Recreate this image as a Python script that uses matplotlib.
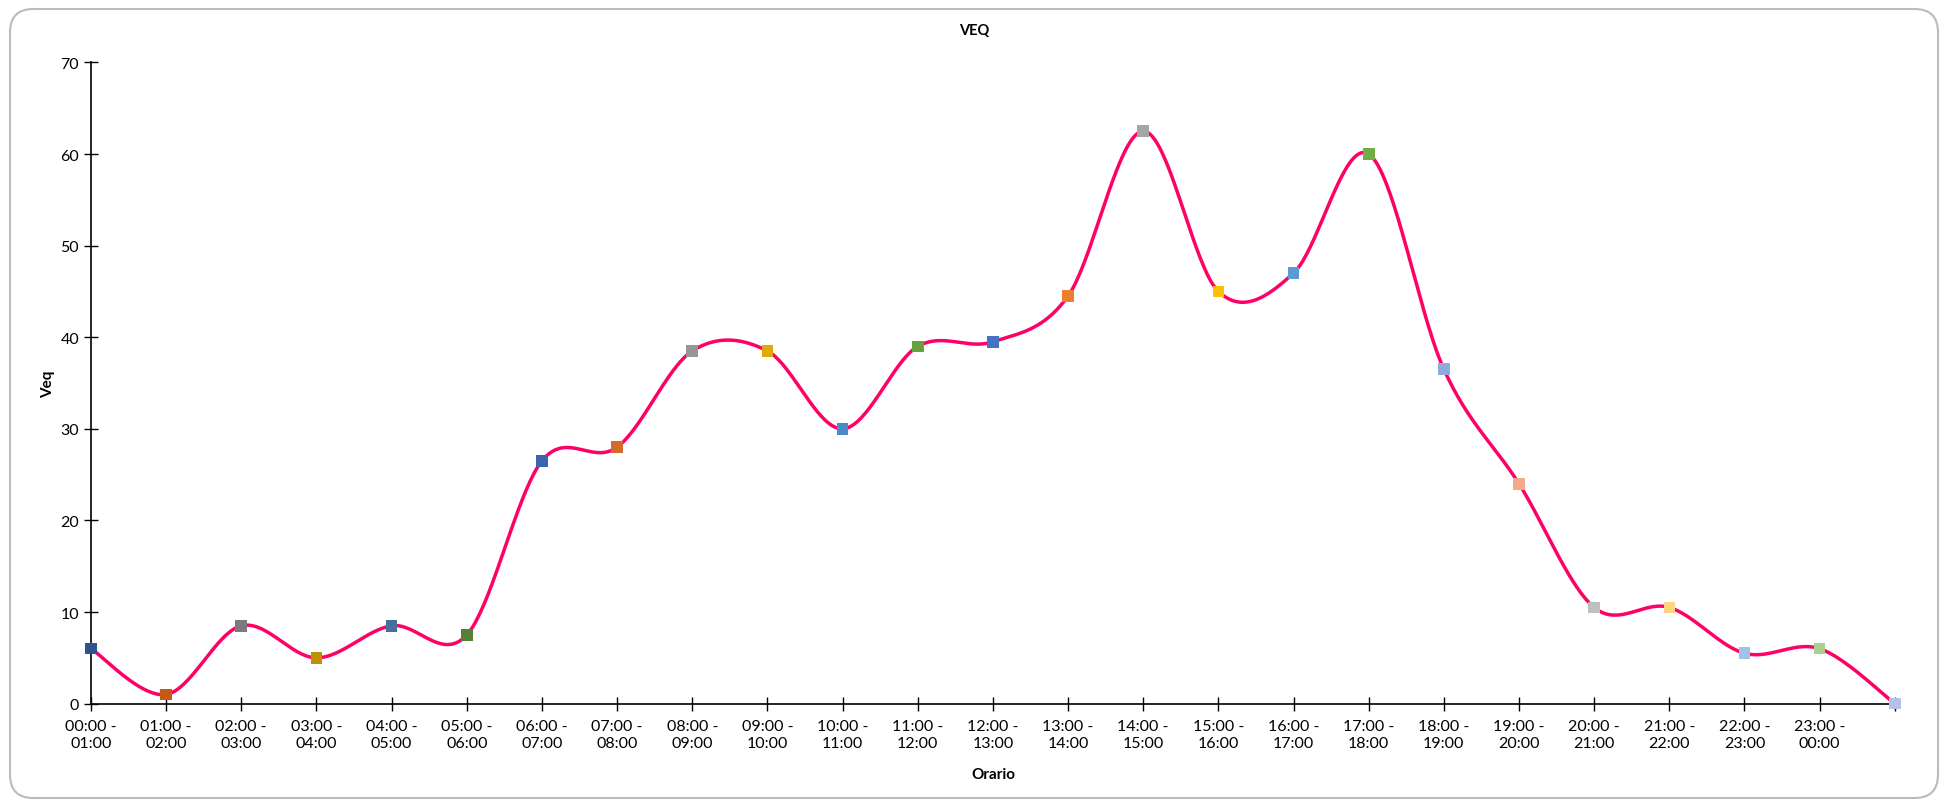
import numpy as np
import matplotlib.pyplot as plt
from matplotlib.patches import FancyBboxPatch

plt.rcParams['font.family'] = ['Lato', 'DejaVu Sans']

# dati: fasce orarie e valori Veq
fasce = ["00:00 -\n01:00", "01:00 -\n02:00", "02:00 -\n03:00", "03:00 -\n04:00",
         "04:00 -\n05:00", "05:00 -\n06:00", "06:00 -\n07:00", "07:00 -\n08:00",
         "08:00 -\n09:00", "09:00 -\n10:00", "10:00 -\n11:00", "11:00 -\n12:00",
         "12:00 -\n13:00", "13:00 -\n14:00", "14:00 -\n15:00", "15:00 -\n16:00",
         "16:00 -\n17:00", "17:00 -\n18:00", "18:00 -\n19:00", "19:00 -\n20:00",
         "20:00 -\n21:00", "21:00 -\n22:00", "22:00 -\n23:00", "23:00 -\n00:00", ""]
veq = [6, 1, 8.5, 5, 8.5, 7.5, 26.5, 28, 38.5, 38.5, 30, 39, 39.5, 44.5,
       62.5, 45, 47, 60, 36.5, 24, 10.5, 10.5, 5.5, 6, 0]
colori = ["#2F528F", "#C55A11", "#7B7B7B", "#BF9000", "#41719C", "#538135",
          "#3A63B0", "#D36A2A", "#969696", "#E0A800", "#4A8BC9", "#64A03D",
          "#4472C4", "#ED7D31", "#A5A5A5", "#FFC000", "#5B9BD5", "#70AD47",
          "#8FAADC", "#F4A98A", "#BFBFBF", "#FFD480", "#9DC3E6", "#A9D18E",
          "#B4C0E7"]


def spline_excel(x, y, n=40):
    # curva liscia tipo Excel (Bezier con tangenti Catmull-Rom)
    x = np.asarray(x, float)
    y = np.asarray(y, float)
    xs, ys = [], []
    for i in range(len(x) - 1):
        x0, y0 = x[max(i - 1, 0)], y[max(i - 1, 0)]
        x3, y3 = x[min(i + 2, len(x) - 1)], y[min(i + 2, len(x) - 1)]
        p1 = (x[i] + (x[i + 1] - x0) / 6, y[i] + (y[i + 1] - y0) / 6)
        p2 = (x[i + 1] - (x3 - x[i]) / 6, y[i + 1] - (y3 - y[i]) / 6)
        t = np.linspace(0, 1, n)
        bx = ((1 - t) ** 3 * x[i] + 3 * (1 - t) ** 2 * t * p1[0]
              + 3 * (1 - t) * t ** 2 * p2[0] + t ** 3 * x[i + 1])
        by = ((1 - t) ** 3 * y[i] + 3 * (1 - t) ** 2 * t * p1[1]
              + 3 * (1 - t) * t ** 2 * p2[1] + t ** 3 * y[i + 1])
        xs.extend(bx)
        ys.extend(by)
    return np.array(xs), np.array(ys)


fig = plt.figure(figsize=(19.48, 8.03), dpi=100)
ax = fig.add_axes([0.0467, 0.1225, 0.926, 0.7985])

x = np.arange(len(veq))
sx, sy = spline_excel(x, veq)
ax.plot(sx, sy, color="#FF0066", lw=2.5, zorder=2, clip_on=False)
ax.scatter(x, veq, marker="s", s=70, c=colori, zorder=3, clip_on=False,
           linewidths=0)

ax.set_xlim(0, 24)
ax.set_ylim(0, 70)
ax.set_yticks(range(0, 71, 10))
ax.set_xticks(x)
ax.set_xticklabels(fasce, fontsize=11.5, linespacing=1.3)
ax.tick_params(axis="y", labelsize=11.5, direction="inout", length=10, width=1)
ax.tick_params(axis="x", direction="inout", length=10, width=1, pad=6)
for s in ["top", "right"]:
    ax.spines[s].set_visible(False)
ax.spines["left"].set_linewidth(1.2)
ax.spines["bottom"].set_linewidth(1.2)

ax.set_xlabel("Orario", fontsize=11, fontweight="bold", labelpad=12)
ax.set_ylabel("Veq", fontsize=11, fontweight="bold", labelpad=4)
fig.text(0.5, 0.962, "VEQ", ha="center", va="center", fontsize=10.5,
         fontweight="bold")

bordo = FancyBboxPatch((10 / 1948, 4 / 803), 1928 / 1948, 789 / 803,
                       boxstyle="round,pad=0,rounding_size=0.012",
                       transform=fig.transFigure, fill=False,
                       edgecolor="#BBBBBB", lw=1.5, mutation_aspect=1948 / 803)
fig.patches.append(bordo)

fig.savefig("out.png", dpi=100)
